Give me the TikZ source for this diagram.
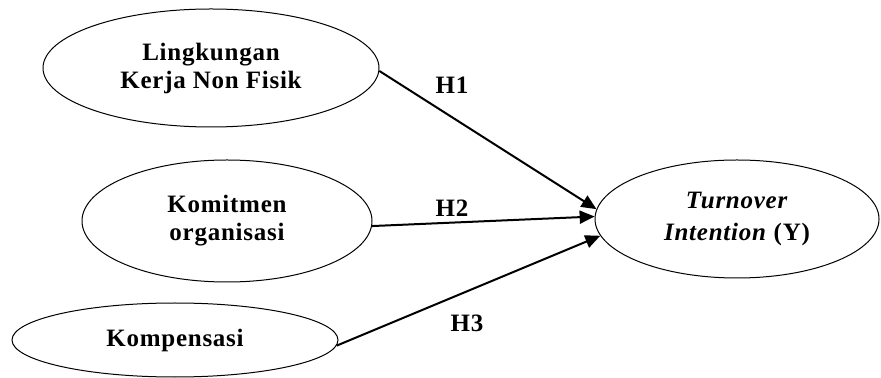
\documentclass[tikz,border=0pt]{standalone}
\usepackage{fontspec}
\setmainfont{Liberation Serif}
\newfontfamily\lblfont[LetterSpace=3]{Liberation Serif}
\usetikzlibrary{arrows.meta,shapes.geometric}

\begin{document}
\begin{tikzpicture}[x=0.5pt,y=-0.5pt,
  font=\lblfont\bfseries\fontsize{12.5}{14}\selectfont,
  var/.style={draw,ellipse,line width=0.5pt,inner sep=0pt,align=center},
  hyp/.style={line width=1pt,-{Triangle[length=7.5pt,width=6.5pt]}}]
  % page
  \useasboundingbox (0,0) rectangle (881,378);

  % variables
  \node[var,minimum width=168pt,minimum height=59pt] (lk) at (211,68) {Lingkungan\\Kerja Non Fisik};
  \node[var,minimum width=145pt,minimum height=61pt] (kom) at (227,221) {Komitmen\\organisasi};
  \node[var,minimum width=163pt,minimum height=37pt] (kmp) at (175,340) {Kompensasi};
  \node[var,minimum width=142pt,minimum height=59pt,
        font=\lblfont\bfseries\fontsize{12.5}{16}\selectfont] (ti) at (737,219)
        {\textit{Turnover}\\\textit{Intention} (Y)};

  % hypotheses
  \draw[hyp] (lk.-1.5) -- (ti.176.4);
  \draw[hyp] (kom.-2) -- (ti.179);
  \draw[hyp] (kmp.-2) -- (ti.187.6);

  % labels
  \node (h1) at (452,85) {H1};
  \node (h2) at (452,208) {H2};
  \node (h3) at (467,323) {H3};
\end{tikzpicture}
\end{document}
